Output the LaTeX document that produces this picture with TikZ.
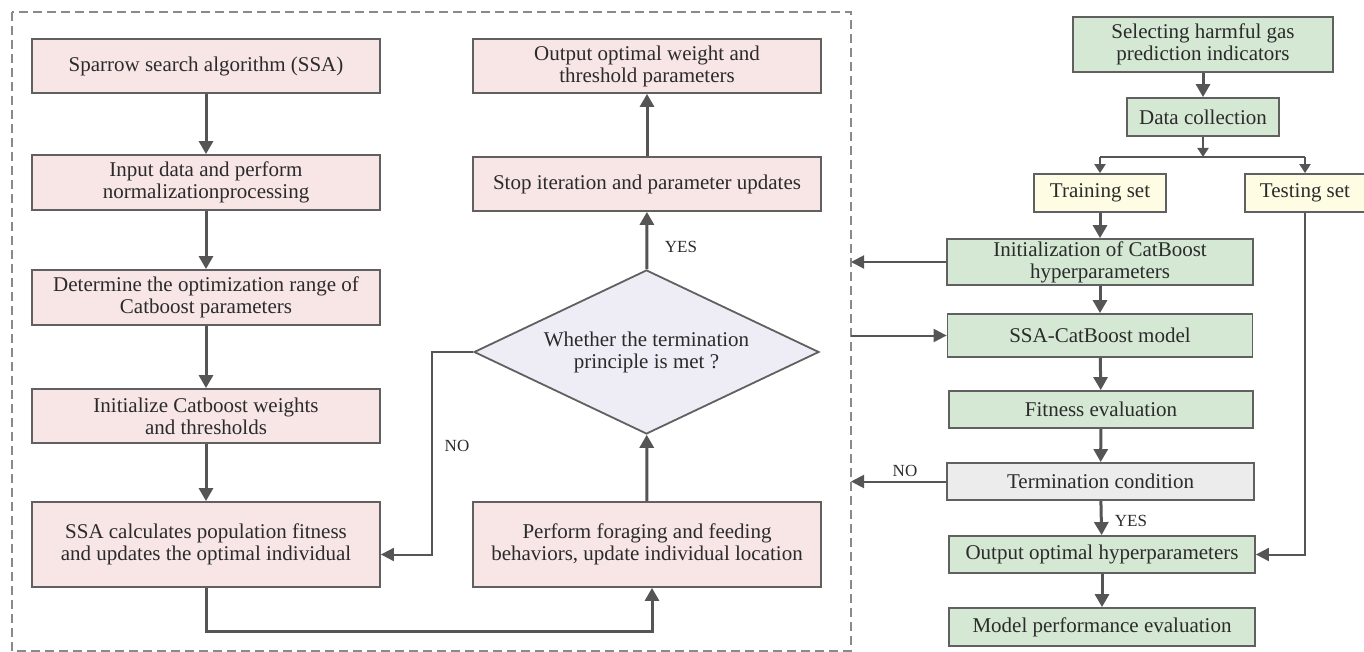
\documentclass[tikz,border=0pt]{standalone}
\usepackage{fontspec}
\setmainfont{Liberation Serif}
\usetikzlibrary{arrows.meta,shapes.geometric}
\definecolor{pinkf}{HTML}{F8E5E5}
\definecolor{greenf}{HTML}{D4E8D4}
\definecolor{yellowf}{HTML}{FEFCE2}
\definecolor{lavf}{HTML}{EEECF5}
\definecolor{greyf}{HTML}{ECECEC}
\definecolor{bord}{HTML}{606060}
\definecolor{txt}{HTML}{2B2B2B}
\definecolor{arrc}{HTML}{555555}
\definecolor{dashc}{HTML}{8A8A8A}
\begin{document}
\begin{tikzpicture}[x=1pt,y=-1pt,
  bx/.style={draw=bord,line width=1.8pt,text=txt,align=center,inner sep=0pt,
    font=\fontsize{21}{22}\selectfont},
  pbox/.style={bx,fill=pinkf,minimum width=348pt},
  gbox/.style={bx,fill=greenf},
  ybox/.style={bx,fill=yellowf},
  arr/.style={draw=arrc,line width=3pt,-{Triangle[length=13pt,width=14pt]}},
  tarr/.style={draw=arrc,line width=2pt,-{Triangle[length=13pt,width=13pt]}},
  sarr/.style={draw=arrc,line width=2pt,-{Triangle[length=9pt,width=11pt]}},
  lab/.style={text=txt,font=\fontsize{17}{18}\selectfont,inner sep=0pt}]
\useasboundingbox (0,0) rectangle (1364,652);
% dashed frame
\draw[dashc,line width=2.2pt,dash pattern=on 9pt off 5pt] (12,12) rectangle (851,651);
\coordinate (fr) at (851,0);
% left column
\node[pbox,minimum height=54pt] (ssa) at (206,66) {Sparrow search algorithm (SSA)};
\node[pbox,minimum height=55pt] (inp) at (206,182.5) {Input data and perform\\normalizationprocessing};
\node[pbox,minimum height=55pt] (det) at (206,297.5) {Determine the optimization range of\\Catboost parameters};
\node[pbox,minimum height=54pt] (ini) at (206,416) {Initialize Catboost weights\\and thresholds};
\node[pbox,minimum height=85pt] (calc) at (206,544.5) {SSA calculates population fitness\\and updates the optimal individual};
% middle column
\node[pbox,minimum height=54pt] (outw) at (647,66) {Output optimal weight and\\threshold parameters};
\node[pbox,minimum height=54pt] (stop) at (647,184) {Stop iteration and parameter updates};
\node[diamond,aspect=2.1,draw=bord,line width=1.8pt,fill=lavf,text=txt,align=center,inner sep=0pt,
  minimum width=345pt,minimum height=164pt,font=\fontsize{21}{22}\selectfont] (dia) at (646.5,352)
  {Whether the termination\\principle is met ?};
\node[pbox,minimum height=85pt] (perf) at (647,544.5) {Perform foraging and feeding\\behaviors, update individual location};
% right column
\node[gbox,minimum width=260pt,minimum height=55pt] (sel) at (1203,44.5) {Selecting harmful gas\\prediction indicators};
\node[gbox,minimum width=152pt,minimum height=38pt] (dat) at (1203,117) {Data collection};
\node[ybox,minimum width=132pt,minimum height=38pt] (tra) at (1100,193) {Training set};
\node[ybox,minimum width=120pt,minimum height=38pt] (tes) at (1305,193) {Testing set};
\node[gbox,minimum width=306pt,minimum height=46pt] (icb) at (1100,262) {Initialization of CatBoost\\hyperparameters};
\node[gbox,minimum width=305pt,minimum height=43pt] (mod) at (1100,335.5) {SSA-CatBoost model};
\node[gbox,minimum width=304pt,minimum height=37pt] (fit) at (1101,409.5) {Fitness evaluation};
\node[bx,fill=greyf,minimum width=307pt,minimum height=37pt] (ter) at (1100.5,481.5) {Termination condition};
\node[gbox,minimum width=306pt,minimum height=37pt] (outh) at (1102,554.5) {Output optimal hyperparameters};
\node[gbox,minimum width=306pt,minimum height=38pt] (mpe) at (1102,627) {Model performance evaluation};
% left arrows
\draw[arr] (ssa) -- (inp);
\draw[arr] (inp) -- (det);
\draw[arr] (det) -- (ini);
\draw[arr] (ini) -- (calc);
\coordinate (bc) at (652,631);
\draw[arr] (calc.south) |- (bc) -- (bc |- perf.south);
\draw[arr] (perf) -- (dia);
\draw[arr] (dia) -- (stop);
\draw[arr] (stop) -- (outw);
\coordinate (nob) at (432,352);
\draw[tarr] (dia.west) -- (nob) |- ([yshift=-10pt]calc.east);
\node[lab] (yes1) at (681,247) {YES};
\node[lab] (no1) at (457,446) {NO};
% right arrows
\draw[arr] (sel) -- (dat);
\coordinate (sp) at (1203,157);
\draw[sarr] (dat) -- (sp);
\coordinate (spl) at (1100,157);
\coordinate (spr) at (1305,157);
\draw[draw=arrc,line width=2pt] (spl) -- (spr);
\draw[sarr] (spl) -- (tra.north);
\draw[sarr] (spr) -- (tes.north);
\draw[arr] (tra) -- (icb);
\draw[arr] (icb) -- (mod);
\draw[arr] (mod) -- (fit);
\draw[arr] (fit) -- (ter);
\draw[arr] (ter) -- (outh);
\draw[arr] (outh) -- (mpe);
\draw[tarr] (tes.south) |- (outh.east);
\draw[tarr] (icb.west) -- (icb.west -| fr);
\draw[tarr] (mod.west -| fr) -- (mod.west);
\draw[tarr] (ter.west) -- (ter.west -| fr);
\node[lab] (no2) at (905,471) {NO};
\node[lab] (yes2) at (1131,521) {YES};
\end{tikzpicture}
\end{document}
